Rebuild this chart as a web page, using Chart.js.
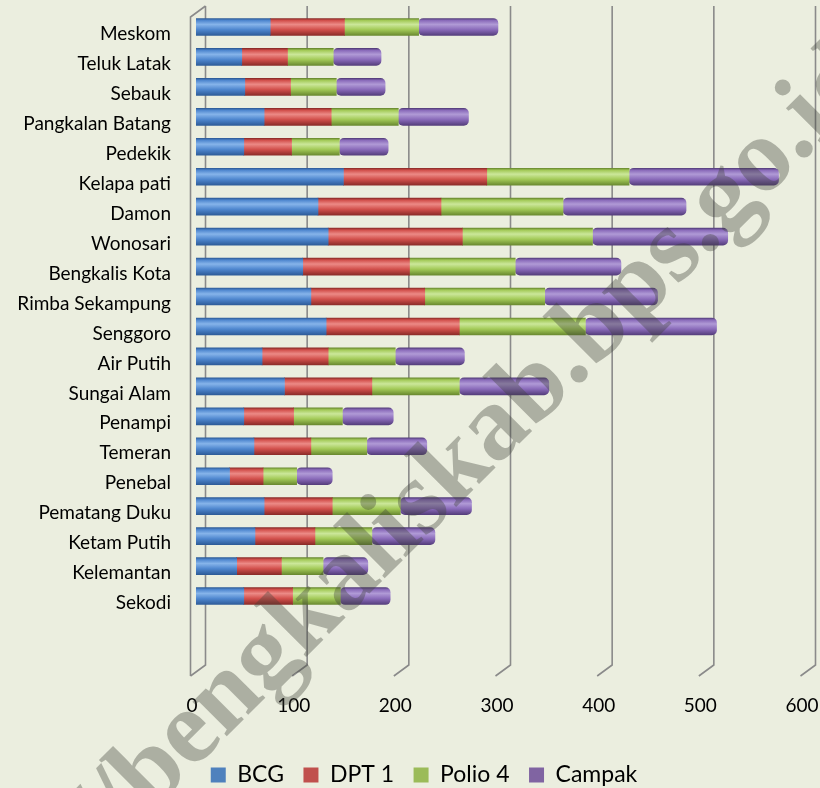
<!DOCTYPE html>
<html><head><meta charset="utf-8">
<script src="https://cdn.jsdelivr.net/npm/chart.js@4.4.1/dist/chart.umd.min.js"></script>
<style>html,body{margin:0;padding:0;background:#EBEEDF;} #wrap{width:820px;height:788px;position:relative;}</style>
</head><body><div id="wrap"><canvas id="c"></canvas></div>
<script>
const categories = ['Meskom','Teluk Latak','Sebauk','Pangkalan Batang','Pedekik','Kelapa pati','Damon','Wonosari','Bengkalis Kota','Rimba Sekampung','Senggoro','Air Putih','Sungai Alam','Penampi','Temeran','Penebal','Pematang Duku','Ketam Putih','Kelemantan','Sekodi'];
const bcg    = [73,45,48,67,47,145,120,130,105,113,128,65,87,47,57,33,67,58,40,47];
const dpt1   = [73,45,45,66,47,141,121,132,105,112,131,65,86,49,56,33,67,59,44,48];
const polio4 = [73,45,45,66,47,140,120,128,104,118,124,66,86,48,55,33,67,56,41,47];
const campak = [78,47,48,69,48,147,121,133,104,111,129,68,88,50,59,35,70,62,44,49];
const seriesNames = ['BCG','DPT 1','Polio 4','Campak'];
const xTickValues = [0,100,200,300,400,500,600];
const watermarkText = 'http://bengkaliskab.bps.go.id';

const shades = [
  {dark:'#2E5C99', base:'#4F87CF', light:'#86B4EA', legend:'#4F81BD'},
  {dark:'#8C2C29', base:'#D2504C', light:'#EC8A86', legend:'#C0504D'},
  {dark:'#6A8A30', base:'#A3CA58', light:'#CBE79A', legend:'#9BBB59'},
  {dark:'#553E7C', base:'#8A6BBA', light:'#B09AD6', legend:'#8064A2'}
];
const BAR_T = 17;
function cyl(i){
  return function(ctx){
    const chart = ctx.chart;
    const ys = chart.scales && chart.scales.y;
    if (!ys || ctx.dataIndex === undefined) return shades[i].base;
    const yc = ys.getPixelForValue(ctx.dataIndex);
    const g = chart.ctx.createLinearGradient(0, yc - BAR_T/2, 0, yc + BAR_T/2);
    g.addColorStop(0, shades[i].dark);
    g.addColorStop(0.12, shades[i].base);
    g.addColorStop(0.35, shades[i].light);
    g.addColorStop(0.65, shades[i].base);
    g.addColorStop(1, shades[i].dark);
    return g;
  };
}
const seriesData = [bcg, dpt1, polio4, campak];
const datasets = seriesData.map((d, i) => ({
  label: seriesNames[i],
  data: d,
  backgroundColor: cyl(i),
  borderWidth: 0,
  borderRadius: 5,
  borderSkipped: false,
  barThickness: BAR_T
}));

const bgPlugin = {
  id: 'bg',
  beforeDraw(chart){
    const c = chart.ctx; c.save(); c.fillStyle = '#EBEEDF'; c.fillRect(0,0,chart.width,chart.height); c.restore();
  }
};
const legendShift = {
  id: 'legendShift',
  afterLayout(chart){
    if (chart.legend) { chart.legend.left += 42; }
  }
};
const wallPlugin = {
  id: 'wall',
  beforeDatasetsDraw(chart){
    const c = chart.ctx, xs = chart.scales.x;
    const depth = 9.5, top = 6, bottom = 665, dx = 15, dy = 11;
    c.save();
    c.strokeStyle = '#8A8A8A';
    c.lineWidth = 1.6;
    xTickValues.forEach(v => {
      const bx = xs.getPixelForValue(v) + depth;
      c.beginPath();
      c.moveTo(bx, top); c.lineTo(bx, bottom); c.lineTo(bx - dx, bottom + dy);
      c.stroke();
    });
    const b0 = xs.getPixelForValue(0) + depth;
    c.beginPath();
    c.moveTo(b0, top); c.lineTo(b0 - dx, top + dy); c.lineTo(b0 - dx, bottom + dy);
    c.stroke();
    c.restore();
  }
};
const wmPlugin = {
  id: 'wm',
  afterDraw(chart){
    const c = chart.ctx;
    c.save();
    c.translate(-50, 1013);
    c.rotate(-45 * Math.PI / 180);
    c.font = 'bold 106px "Liberation Serif"';
    c.textAlign = 'left';
    c.textBaseline = 'alphabetic';
    c.fillStyle = 'rgba(60,65,55,0.36)';
    c.fillText(watermarkText, 0, 0);
    c.restore();
  }
};

new Chart(document.getElementById('c'), {
  type: 'bar',
  data: { labels: categories, datasets },
  options: {
    indexAxis: 'y',
    responsive: true,
    maintainAspectRatio: false,
    animation: false,
    layout: { padding: { left: 0, right: 14, top: 12, bottom: 0 } },
    scales: {
      x: {
        stacked: true, min: 0, max: 600,
        afterBuildTicks(scale){ scale.ticks = xTickValues.map(v => ({value: v})); },
        grid: { display: false, drawTicks: false },
        border: { display: false },
        ticks: { padding: 83, labelOffset: -4, color: '#000', font: { family: 'Lato', size: 19 }, maxRotation: 0 },
        afterFit(scale){ scale.height = 133; scale.paddingLeft = 0; scale.paddingRight = 0; }
      },
      y: {
        stacked: true,
        grid: { display: false, drawTicks: false },
        border: { display: false },
        ticks: { padding: 25, labelOffset: 7, color: '#000', font: { family: 'Lato', size: 19 }, autoSkip: false },
        afterFit(scale){ scale.width = 196; scale.paddingTop = 0; scale.paddingBottom = 0; }
      }
    },
    plugins: {
      legend: {
        position: 'bottom',
        maxHeight: 44,
        labels: {
          boxWidth: 15, boxHeight: 15, padding: 19.5, color: '#000',
          font: { family: 'Lato', size: 23 },
          generateLabels(chart){
            return chart.data.datasets.map((ds, i) => ({
              text: ds.label, fillStyle: shades[i].legend, strokeStyle: shades[i].legend,
              lineWidth: 0, hidden: false, datasetIndex: i
            }));
          }
        }
      },
      tooltip: { enabled: false }
    }
  },
  plugins: [bgPlugin, legendShift, wallPlugin, wmPlugin]
});
</script></body></html>
